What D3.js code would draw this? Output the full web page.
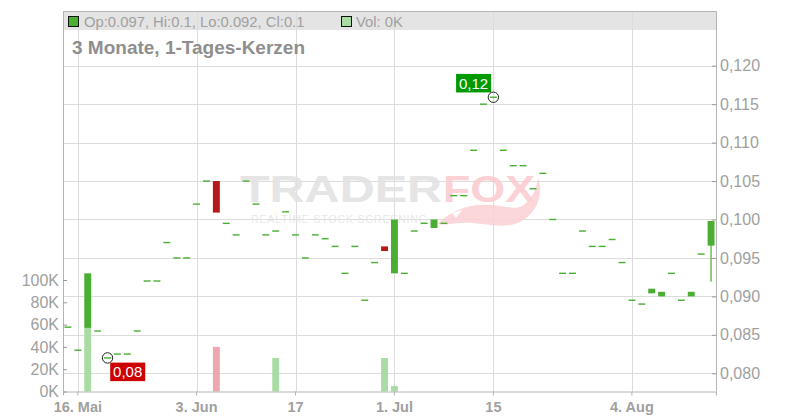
<!DOCTYPE html>
<html><head><meta charset="utf-8">
<script src="https://cdn.jsdelivr.net/npm/d3@7"></script>
<style>
html,body{margin:0;padding:0;background:#fff;}
svg{display:block;font-family:"Liberation Sans",Arial,sans-serif;}
</style></head>
<body>
<svg id="chart" width="800" height="420"></svg>
<script>
// ---------- DATA ----------
const days = [
 "2025-05-15","2025-05-16","2025-05-19","2025-05-20","2025-05-21","2025-05-22","2025-05-23","2025-05-26","2025-05-27","2025-05-28","2025-05-29","2025-05-30",
 "2025-06-02","2025-06-03","2025-06-04","2025-06-05","2025-06-06","2025-06-09","2025-06-10","2025-06-11","2025-06-12","2025-06-13","2025-06-16","2025-06-17","2025-06-18","2025-06-19","2025-06-20","2025-06-23","2025-06-24","2025-06-25","2025-06-26","2025-06-27","2025-06-30",
 "2025-07-01","2025-07-02","2025-07-03","2025-07-04","2025-07-07","2025-07-08","2025-07-09","2025-07-10","2025-07-11","2025-07-14","2025-07-15","2025-07-16","2025-07-17","2025-07-18","2025-07-21","2025-07-22","2025-07-23","2025-07-24","2025-07-25","2025-07-28","2025-07-29","2025-07-30","2025-07-31",
 "2025-08-01","2025-08-04","2025-08-05","2025-08-06","2025-08-07","2025-08-08","2025-08-11","2025-08-12","2025-08-13","2025-08-14"];

const opens = [
 0.0860,0.0830,0.0859,0.0855,0.0820,0.0825,0.0825,0.0855,0.0920,0.0920,0.0970,0.0950,
 0.0950,0.1020,0.1050,0.1050,0.0995,0.0980,0.1050,0.1020,0.0980,0.0985,0.1010,0.0980,0.0950,0.0980,0.0975,0.0965,0.0930,0.0965,0.0895,0.0944,0.0965,
 0.0930,0.0930,0.0985,0.0995,0.0989,0.0995,0.1031,0.1031,0.1090,0.1150,0.1159,0.1090,0.1070,0.1070,0.1040,0.1060,0.1000,0.0930,0.0930,0.0985,0.0965,0.0965,0.0974,
 0.0944,0.0895,0.0890,0.0904,0.0900,0.0930,0.0895,0.0900,0.0955,0.0966];
const closes = [
 0.0860,0.0830,0.0930,0.0855,0.0820,0.0825,0.0825,0.0855,0.0920,0.0920,0.0970,0.0950,
 0.0950,0.1020,0.1050,0.1009,0.0995,0.0980,0.1050,0.1020,0.0980,0.0985,0.1010,0.0980,0.0950,0.0980,0.0975,0.0965,0.0930,0.0965,0.0895,0.0944,0.0959,
 0.1000,0.0930,0.0985,0.0995,0.1000,0.0995,0.1031,0.1031,0.1090,0.1150,0.1159,0.1090,0.1070,0.1070,0.1040,0.1060,0.1000,0.0930,0.0930,0.0985,0.0965,0.0965,0.0974,
 0.0944,0.0895,0.0890,0.0910,0.0906,0.0930,0.0895,0.0906,0.0955,0.0998];
const highs = [
 0.0860,0.0830,0.0930,0.0855,0.0820,0.0825,0.0825,0.0855,0.0920,0.0920,0.0970,0.0950,
 0.0950,0.1020,0.1050,0.1050,0.0995,0.0980,0.1050,0.1020,0.0980,0.0985,0.1010,0.0980,0.0950,0.0980,0.0975,0.0965,0.0930,0.0965,0.0895,0.0944,0.0965,
 0.1000,0.0930,0.0985,0.0995,0.1000,0.0995,0.1031,0.1031,0.1090,0.1150,0.1159,0.1090,0.1070,0.1070,0.1040,0.1060,0.1000,0.0930,0.0930,0.0985,0.0965,0.0965,0.0974,
 0.0944,0.0895,0.0890,0.0910,0.0906,0.0930,0.0895,0.0906,0.0955,0.0998];
const lows = [
 0.0860,0.0830,0.0859,0.0855,0.0820,0.0825,0.0825,0.0855,0.0920,0.0920,0.0970,0.0950,
 0.0950,0.1020,0.1050,0.1009,0.0995,0.0980,0.1050,0.1020,0.0980,0.0985,0.1010,0.0980,0.0950,0.0980,0.0975,0.0965,0.0930,0.0965,0.0895,0.0944,0.0959,
 0.0930,0.0930,0.0985,0.0995,0.0989,0.0995,0.1031,0.1031,0.1090,0.1150,0.1159,0.1090,0.1070,0.1070,0.1040,0.1060,0.1000,0.0930,0.0930,0.0985,0.0965,0.0965,0.0974,
 0.0944,0.0895,0.0890,0.0904,0.0900,0.0930,0.0895,0.0900,0.0955,0.0919];
const volumes = [
 0,0,57000,0,0,0,0,0,0,0,0,0,
 0,0,0,40000,0,0,0,0,0,30000,0,0,0,0,0,0,0,0,0,0,30000,
 5000,0,0,0,0,0,0,0,0,0,0,0,0,0,0,0,0,0,0,0,0,0,0,
 0,0,0,0,0,0,0,0,0,0];

const xTickDays   = ["2025-05-16","2025-06-03","2025-06-17","2025-07-01","2025-07-15","2025-08-04"];
const xTickLabels = ["16. Mai","3. Jun","17","1. Jul","15","4. Aug"];
const priceTicks  = [0.080,0.085,0.090,0.095,0.100,0.105,0.110,0.115,0.120];
const volTicks    = [0,20000,40000,60000,80000,100000];
const subtitle    = "3 Monate, 1-Tages-Kerzen";

// ---------- LAYOUT ----------
const L = 63, R = 716, T = 11, B = 391.5, HEAD = 30;
const GREEN = "#4aae33", RED = "#b71818", VGREEN = "#a9dca2", VRED = "#eea7af";
const GRID = "#dcdcdc", AXIS = "#b4b4b4", TXT = "#a0a0a0";

const svg = d3.select("#chart");
const x = d3.scaleBand().domain(days).range([L, R]).paddingInner(0.3).paddingOuter(0.15);
const y = d3.scaleLinear().domain([0.080, 0.120]).range([373.3, 65.7]);
const v = d3.scaleLinear().domain([0, 100000]).range([B, 280]);
const cx = d => x(d) + x.bandwidth() / 2;

// header
svg.append("rect").attr("x", L).attr("y", T).attr("width", R - L).attr("height", HEAD - T).attr("fill", "#e4e4e4");

// grid
svg.append("g").selectAll("line").data(priceTicks).join("line")
  .attr("x1", L).attr("x2", R).attr("y1", d => Math.round(y(d)) + 0.5).attr("y2", d => Math.round(y(d)) + 0.5)
  .attr("stroke", GRID).attr("stroke-width", 1);
svg.append("g").selectAll("line").data(xTickDays).join("line")
  .attr("x1", d => Math.round(cx(d)) + 0.5).attr("x2", d => Math.round(cx(d)) + 0.5).attr("y1", T).attr("y2", B)
  .attr("stroke", GRID).attr("stroke-width", 1);

// watermark
const wm = svg.append("g").attr("opacity", 0.9);
wm.append("path")
  .attr("d", "M437,224 C452,210 470,203 492,205 C505,206 515,210 522,206 C532,200 536,190 538,178 C544,196 536,214 520,222 C505,229 488,224 472,223 C458,222 446,226 437,224 Z")
  .attr("fill", "#fbd3d6");
wm.append("path").attr("d", "M452,213 L462,210 L456,218 Z").attr("fill", "#fff");
wm.append("text").attr("x", 240).attr("y", 202).attr("font-size", 37).attr("font-weight", "bold")
  .attr("textLength", 202).attr("lengthAdjust", "spacingAndGlyphs").attr("fill", "#e3e3e3").text("TRADER");
wm.append("text").attr("x", 443).attr("y", 202).attr("font-size", 37).attr("font-weight", "bold")
  .attr("textLength", 92).attr("lengthAdjust", "spacingAndGlyphs").attr("fill", "#fbcdd1").text("FOX");
wm.append("text").attr("x", 251).attr("y", 223).attr("font-size", 10.5)
  .attr("textLength", 176).attr("lengthAdjust", "spacing").attr("fill", "#e6e6e6").text("REALTIME STOCK SCREENING");

// candles
const rows = days.map((d, i) => ({ d, o: opens[i], c: closes[i], h: highs[i], l: lows[i], vol: volumes[i], prev: i > 0 ? closes[i - 1] : opens[i] }));
const cg = svg.append("g");
cg.selectAll("line.wick").data(rows.filter(r => r.h > Math.max(r.o, r.c) || r.l < Math.min(r.o, r.c))).join("line")
  .attr("x1", r => cx(r.d)).attr("x2", r => cx(r.d)).attr("y1", r => y(r.h)).attr("y2", r => y(r.l))
  .attr("stroke", r => r.c < r.o ? RED : GREEN).attr("stroke-width", 1.2);
cg.selectAll("rect").data(rows).join("rect")
  .attr("x", r => x(r.d)).attr("width", x.bandwidth())
  .attr("y", r => Math.min(y(r.o), y(r.c)) - (r.o === r.c ? 0.7 : 0))
  .attr("height", r => Math.max(1.4, Math.abs(y(r.o) - y(r.c))))
  .attr("fill", r => r.c < r.o ? RED : GREEN);

// volume
svg.append("g").selectAll("rect").data(rows.filter(r => r.vol > 0)).join("rect")
  .attr("x", r => x(r.d)).attr("width", x.bandwidth())
  .attr("y", r => v(r.vol)).attr("height", r => B - v(r.vol))
  .attr("fill", r => r.c < r.prev ? VRED : VGREEN);

// extreme markers
const fmt2 = p => p.toFixed(2).replace(".", ",");
const hiRow = rows.reduce((a, b) => b.h > a.h ? b : a);
const loRow = rows.reduce((a, b) => b.l < a.l ? b : a);
const mk = svg.append("g");
[[hiRow, hiRow.h, "#009a00", "hi"], [loRow, loRow.l, "#cc0000", "lo"]].forEach(([r, p, col, kind]) => {
  const px = cx(r.d), py = y(p);
  const bw = 35, bh = 18.5;
  const bx = kind === "hi" ? px - 2.3 - bw : px + 2.7;
  const by = kind === "hi" ? py - 4.8 - bh : py + 4.7;
  mk.append("rect").attr("x", bx).attr("y", by).attr("width", bw).attr("height", bh).attr("fill", col);
  mk.append("text").attr("x", bx + bw / 2).attr("y", by + bh / 2).attr("dy", "0.36em")
    .attr("text-anchor", "middle").attr("font-size", 15).attr("fill", "#fff").text(fmt2(p));
  mk.append("circle").attr("cx", px).attr("cy", py).attr("r", 5.2)
    .attr("fill", "none").attr("stroke", "#222").attr("stroke-width", 1);
});

// frame
svg.append("path").attr("d", `M${L + 0.5},${B} V${T + 0.5} H${R + 0.5} V${B}`).attr("fill", "none").attr("stroke", AXIS);

// axes
const xAxis = d3.axisBottom(x).tickValues(xTickDays).tickSize(4).tickPadding(6)
  .tickFormat(d => xTickLabels[xTickDays.indexOf(d)]);
const gx = svg.append("g").attr("transform", `translate(0,${B})`).call(xAxis);
gx.select(".domain").attr("stroke", AXIS);
gx.selectAll(".tick line").attr("stroke", AXIS);
gx.selectAll("text").attr("font-size", 14.5).attr("font-weight", "bold").attr("fill", TXT).attr("font-family", "Liberation Sans, Arial, sans-serif");

const yAxis = d3.axisRight(y).tickValues(priceTicks).tickSize(-4).tickPadding(4)
  .tickFormat(d => d.toFixed(3).replace(".", ","));
const gy = svg.append("g").attr("transform", `translate(${R},0)`).call(yAxis);
gy.select(".domain").remove();
gy.selectAll(".tick line").attr("stroke", "#999");
gy.selectAll("text").attr("font-size", 16).attr("fill", TXT).attr("font-family", "Liberation Sans, Arial, sans-serif");

const vAxis = d3.axisLeft(v).tickValues(volTicks).tickSize(-4).tickPadding(4)
  .tickFormat(d => (d / 1000) + "K");
const gv = svg.append("g").attr("transform", `translate(${L},0)`).call(vAxis);
gv.select(".domain").remove();
gv.selectAll(".tick line").attr("stroke", "#999");
gv.selectAll("text").attr("font-size", 16).attr("fill", TXT).attr("font-family", "Liberation Sans, Arial, sans-serif");

// header legend
const last = rows[rows.length - 1];
const f3 = p => String(+p.toFixed(3));
svg.append("rect").attr("x", 68.5).attr("y", 16.5).attr("width", 10).attr("height", 10)
  .attr("fill", GREEN).attr("stroke", "#111").attr("stroke-width", 1);
svg.append("text").attr("x", 84).attr("y", 26.5).attr("font-size", 14.8).attr("fill", TXT)
  .text(`Op:${f3(last.o)}, Hi:${f3(last.h)}, Lo:${f3(last.l)}, Cl:${f3(last.c)}`);
svg.append("rect").attr("x", 341.5).attr("y", 16.5).attr("width", 10).attr("height", 10)
  .attr("fill", VGREEN).attr("stroke", "#111").attr("stroke-width", 1);
svg.append("text").attr("x", 356).attr("y", 26.5).attr("font-size", 14.8).attr("fill", TXT)
  .text(`Vol: ${Math.round(last.vol / 1000)}K`);

// subtitle
svg.append("text").attr("x", 72).attr("y", 53.5).attr("font-size", 19).attr("font-weight", "bold")
  .attr("fill", "#8e8e8e").text(subtitle);
</script>
</body></html>
